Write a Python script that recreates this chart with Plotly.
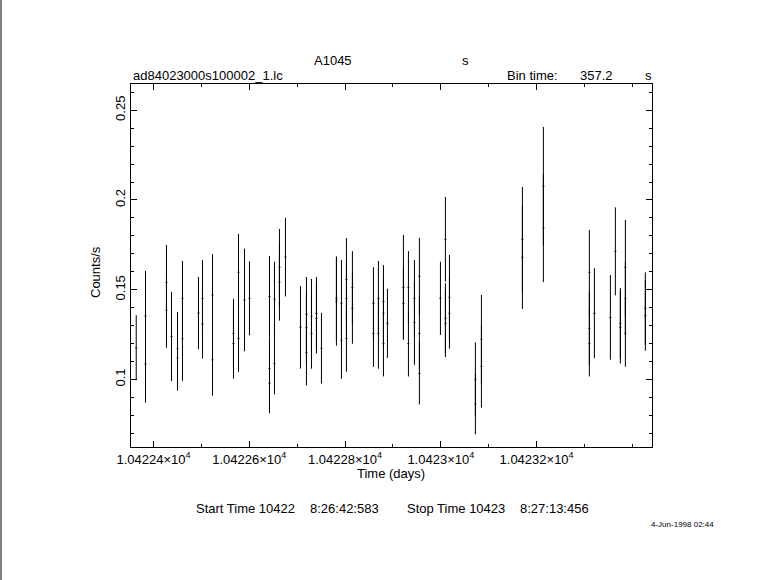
import plotly.graph_objects as go

# ---- data ----
time_days = [
    10422.3639, 10422.3833, 10422.3833, 10422.4271, 10422.4271, 10422.4376,
    10422.4501, 10422.4501, 10422.4605, 10422.4605, 10422.4939, 10422.5023,
    10422.5023, 10422.5232, 10422.5232, 10422.5670, 10422.5670, 10422.5775,
    10422.5775, 10422.5900, 10422.6004, 10422.6422, 10422.6422, 10422.6422,
    10422.6526, 10422.6526, 10422.6630, 10422.6630, 10422.6756,
    10422.7069, 10422.7194, 10422.7194, 10422.7194, 10422.7299, 10422.7299,
    10422.7403, 10422.7403, 10422.7507, 10422.7820, 10422.7820, 10422.7925,
    10422.7925, 10422.8029, 10422.8029, 10422.8029, 10422.8154, 10422.8154,
    10422.8593, 10422.8593, 10422.8697, 10422.8697, 10422.8802, 10422.8802,
    10422.8802, 10422.8885, 10422.9219, 10422.9219, 10422.9324, 10422.9324,
    10422.9449, 10422.9449, 10422.9553, 10422.9553, 10422.9553, 10422.9992,
    10423.0096, 10423.0096, 10423.0096, 10423.0180, 10423.0180,
    10423.0722, 10423.0722, 10423.0848, 10423.0848, 10423.1704, 10423.1704,
    10423.2142, 10423.2142, 10423.3102, 10423.3102, 10423.3102, 10423.3207,
    10423.3541, 10423.3645, 10423.3749, 10423.3749, 10423.3854, 10423.3854,
    10423.3854, 10423.4271, 10423.4271,
]
count_rate = [
    0.1177, 0.1354, 0.1086, 0.1541, 0.1387, 0.1240,
    0.1172, 0.1120, 0.1452, 0.1227, 0.1370, 0.1452,
    0.1309, 0.1471, 0.1109, 0.1257, 0.1201, 0.1597,
    0.1229, 0.1443, 0.1452, 0.1463, 0.1062, 0.0979,
    0.1448, 0.1090, 0.1625, 0.1543, 0.1682,
    0.1291, 0.1363, 0.1289, 0.1151, 0.1352, 0.1257,
    0.1369, 0.1341, 0.1174, 0.1452, 0.1437, 0.1424,
    0.1218, 0.1558, 0.1452, 0.1229, 0.1513, 0.1396,
    0.1424, 0.1257, 0.1452, 0.1257, 0.1435, 0.1369,
    0.1201, 0.1313, 0.1513, 0.1424, 0.1513, 0.1201,
    0.1452, 0.1318, 0.1575, 0.1257, 0.1034, 0.1452,
    0.1781, 0.1341, 0.1313, 0.1458, 0.1369,
    0.1001, 0.0864, 0.1224, 0.1073, 0.1781, 0.1681,
    0.2078, 0.1844, 0.1597, 0.1285, 0.1201, 0.1369,
    0.1346, 0.1714, 0.1313, 0.1291, 0.1625, 0.1452,
    0.1257, 0.1396, 0.1357,
]
rate_error = [
    0.0181, 0.0251, 0.0215, 0.0208, 0.0210, 0.0249,
    0.0204, 0.0182, 0.0208, 0.0234, 0.0201, 0.0214,
    0.0193, 0.0228, 0.0199, 0.0191, 0.0197, 0.0214,
    0.0186, 0.0286, 0.0206, 0.0225, 0.0176, 0.0167,
    0.0208, 0.0173, 0.0214, 0.0215, 0.0219,
    0.0230, 0.0208, 0.0195, 0.0184, 0.0208, 0.0197,
    0.0202, 0.0197, 0.0197, 0.0225, 0.0249, 0.0241,
    0.0214, 0.0230, 0.0204, 0.0186, 0.0202, 0.0197,
    0.0202, 0.0186, 0.0208, 0.0197, 0.0202, 0.0195,
    0.0184, 0.0193, 0.0292, 0.0197, 0.0202, 0.0184,
    0.0214, 0.0236, 0.0214, 0.0204, 0.0173, 0.0204,
    0.0236, 0.0195, 0.0189, 0.0236, 0.0197,
    0.0206, 0.0169, 0.0247, 0.0230, 0.0292, 0.0288,
    0.0329, 0.0301, 0.0236, 0.0204, 0.0184, 0.0251,
    0.0236, 0.0245, 0.0197, 0.0202, 0.0264, 0.0204,
    0.0186, 0.0201, 0.0197,
]
bin_half_width = 0.00207  # 357.2 s / 2 in days

x_tick_vals = [10422.4, 10422.6, 10422.8, 10423.0, 10423.2]
x_tick_text = ["1.04224×10<sup>4</sup>", "1.04226×10<sup>4</sup>",
               "1.04228×10<sup>4</sup>", "1.0423×10<sup>4</sup>",
               "1.04232×10<sup>4</sup>"]
y_tick_vals = [0.1, 0.15, 0.2, 0.25]
y_tick_text = ["0.1", "0.15", "0.2", "0.25"]

# ---- layout geometry (pixels) ----
W, H = 781, 580
L, R, T, B = 131, 652, 84, 447
PW, PH = R - L, B - T


def px(x):
    return (x - L) / PW


def py(y):
    return (B - y) / PH


FONT = "Liberation Sans"
FS = 13

fig = go.Figure()
fig.add_trace(go.Scatter(
    x=time_days, y=count_rate, mode="markers",
    marker=dict(size=0.1, color="black", opacity=0),
    error_y=dict(type="data", array=rate_error, visible=True,
                 color="black", thickness=1, width=0),
    error_x=dict(type="data", array=[bin_half_width] * len(time_days),
                 visible=True, color="black", thickness=1, width=0),
    showlegend=False, hoverinfo="x+y",
))

axis_common = dict(
    showgrid=False, zeroline=False, showline=True, linecolor="black",
    linewidth=1, mirror="allticks", ticks="inside", tickcolor="black",
    tickwidth=1, ticklen=6,
    tickfont=dict(family=FONT, size=FS, color="black"),
)

fig.update_xaxes(
    **axis_common, range=[10422.353, 10423.441],
    tickmode="array", tickvals=x_tick_vals, ticktext=x_tick_text,
    minor=dict(ticks="inside", ticklen=3, tickcolor="black", tickwidth=1,
               dtick=0.1, tick0=10422.4, showgrid=False),
)
fig.update_yaxes(
    **axis_common, range=[0.0624, 0.2646],
    tickmode="array", tickvals=y_tick_vals, ticktext=y_tick_text,
    tickangle=-90,
    minor=dict(ticks="inside", ticklen=3, tickcolor="black", tickwidth=1,
               dtick=0.01, tick0=0.1, showgrid=False),
)

txt = dict(family=FONT, size=FS, color="black")
ann = [
    dict(text="A1045", x=px(312), y=py(60), xanchor="left"),
    dict(text="s", x=px(465), y=py(60), xanchor="center"),
    dict(text="ad84023000s100002_1.lc", x=px(131), y=py(75), xanchor="left"),
    dict(text="Bin time:", x=px(505), y=py(75), xanchor="left"),
    dict(text="357.2", x=px(578), y=py(75), xanchor="left"),
    dict(text="s", x=px(648), y=py(75), xanchor="center"),
    dict(text="Time (days)", x=px(391), y=py(473), xanchor="center"),
    dict(text="Start Time 10422", x=px(194), y=py(508), xanchor="left"),
    dict(text="8:26:42:583", x=px(308), y=py(508), xanchor="left"),
    dict(text="Stop Time 10423", x=px(405), y=py(508), xanchor="left"),
    dict(text="8:27:13:456", x=px(518), y=py(508), xanchor="left"),
]
annotations = []
for a in ann:
    a.update(xref="paper", yref="paper", yanchor="middle", showarrow=False,
             font=txt, height=22)
    annotations.append(a)
annotations.append(dict(text="Counts/s", x=px(95), y=py(272), textangle=-90,
                        xref="paper", yref="paper", xanchor="center",
                        yanchor="middle", showarrow=False, font=txt))
annotations.append(dict(text="4-Jun-1998 02:44", x=px(682), y=py(524),
                        xref="paper", yref="paper", xanchor="center",
                        yanchor="middle", showarrow=False,
                        font=dict(family=FONT, size=8, color="black")))

fig.update_layout(
    width=W, height=H,
    margin=dict(l=L, r=W - R, t=T, b=H - B, autoexpand=False),
    paper_bgcolor="white", plot_bgcolor="white",
    annotations=annotations,
    shapes=[dict(type="line", xref="paper", yref="paper",
                 x0=px(1), x1=px(1), y0=py(0), y1=py(H),
                 line=dict(color="black", width=1))],
)

fig.write_html(
    "out.html",
    config={"displayModeBar": False},
    post_script="document.body.style.margin='0';document.body.style.overflow='hidden';",
)
